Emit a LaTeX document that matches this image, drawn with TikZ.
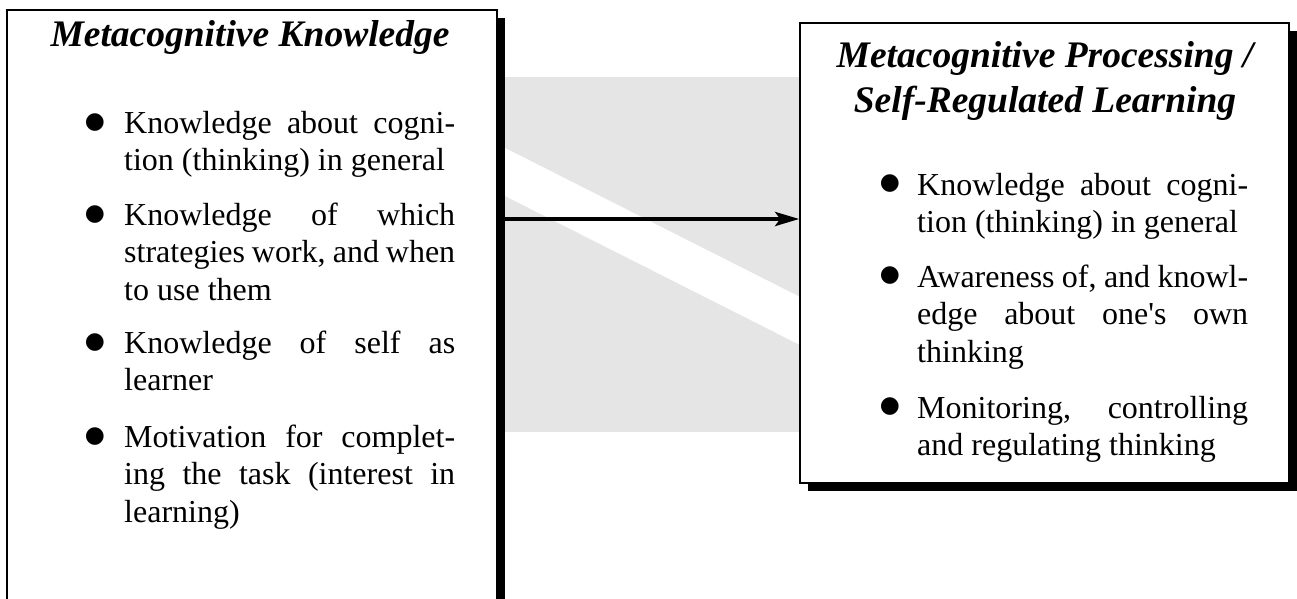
\documentclass[tikz,border=0pt]{standalone}
\usepackage{fontspec}
\setmainfont{Liberation Serif}
\newfontfamily\symfont{DejaVu Sans}
\usetikzlibrary{arrows.meta,shadows}
\definecolor{bandgray}{HTML}{E5E5E5}
\tikzset{
  panel/.style={draw=black, line width=1.6pt, fill=white, inner sep=0pt,
    drop shadow={fill=black, opacity=1, shadow xshift=8pt, shadow yshift=-8pt}},
  ptitle/.style={font=\fontsize{37.5}{45}\selectfont\bfseries\itshape, inner sep=0pt, anchor=base},
  itemtext/.style={font=\fontsize{32}{37.5}\selectfont, inner sep=0pt, anchor=base west},
  dot/.style={font=\symfont\fontsize{23}{23}\selectfont, inner sep=0pt, anchor=center},
  flow/.style={line width=4pt, -{Stealth[length=24pt,width=14pt,inset=5pt]}}
}
\newcommand{\jline}[1]{\makebox[331pt][s]{#1}}
\begin{document}
\begin{tikzpicture}[x=1pt,y=-1pt]
\useasboundingbox (0,0) rectangle (1297,599);
\clip (0,0) rectangle (1297,599);
% background band
\fill[bandgray] (505,77) rectangle (800,432);
\fill[white] (505,148) -- (800,297) -- (800,345) -- (505,196) -- cycle;
% boxes
\node[panel, minimum width=490pt, minimum height=620pt] (lb) at (252,320) {};
\node[panel, minimum width=489pt, minimum height=460pt] (rb) at (1044.5,253) {};
% arrow
\coordinate (ay) at (0,219);
\draw[flow] (lb.east |- ay) -- (rb.west |- ay);
% left box text
\node[ptitle] (lt) at (250,47) {Metacognitive Knowledge};
\node[dot] (lb1) at (95,123) {●};
\node[itemtext] (li1) at (124,133) {\parbox[t]{331pt}{\jline{Knowledge about cogni-}\\tion (thinking) in general}};
\node[dot] (lb2) at (95,215) {●};
\node[itemtext] (li2) at (124,225) {\parbox[t]{331pt}{\jline{Knowledge of which}\\\jline{strategies work, and when}\\to use them}};
\node[dot] (lb3) at (95,343) {●};
\node[itemtext] (li3) at (124,353) {\parbox[t]{331pt}{\jline{Knowledge of self as}\\learner}};
\node[dot] (lb4) at (95,437) {●};
\node[itemtext] (li4) at (124,447) {\parbox[t]{331pt}{\jline{Motivation for complet-}\\\jline{ing the task (interest in}\\learning)}};
% right box text
\node[ptitle] (rt) at (1045,68) {\parbox[t]{470pt}{\centering Metacognitive Processing /\\Self-Regulated Learning}};
\node[dot] (rb1) at (890,184) {●};
\node[itemtext] (ri1) at (917,195) {\parbox[t]{331pt}{\jline{Knowledge about cogni-}\\tion (thinking) in general}};
\node[dot] (rb2) at (890,276) {●};
\node[itemtext] (ri2) at (917,287) {\parbox[t]{331pt}{\jline{Awareness of, and knowl-}\\\jline{edge about one\textquotesingle s own}\\thinking}};
\node[dot] (rb3) at (890,407) {●};
\node[itemtext] (ri3) at (917,418) {\parbox[t]{331pt}{\jline{Monitoring, controlling}\\and regulating thinking}};
\end{tikzpicture}
\end{document}
